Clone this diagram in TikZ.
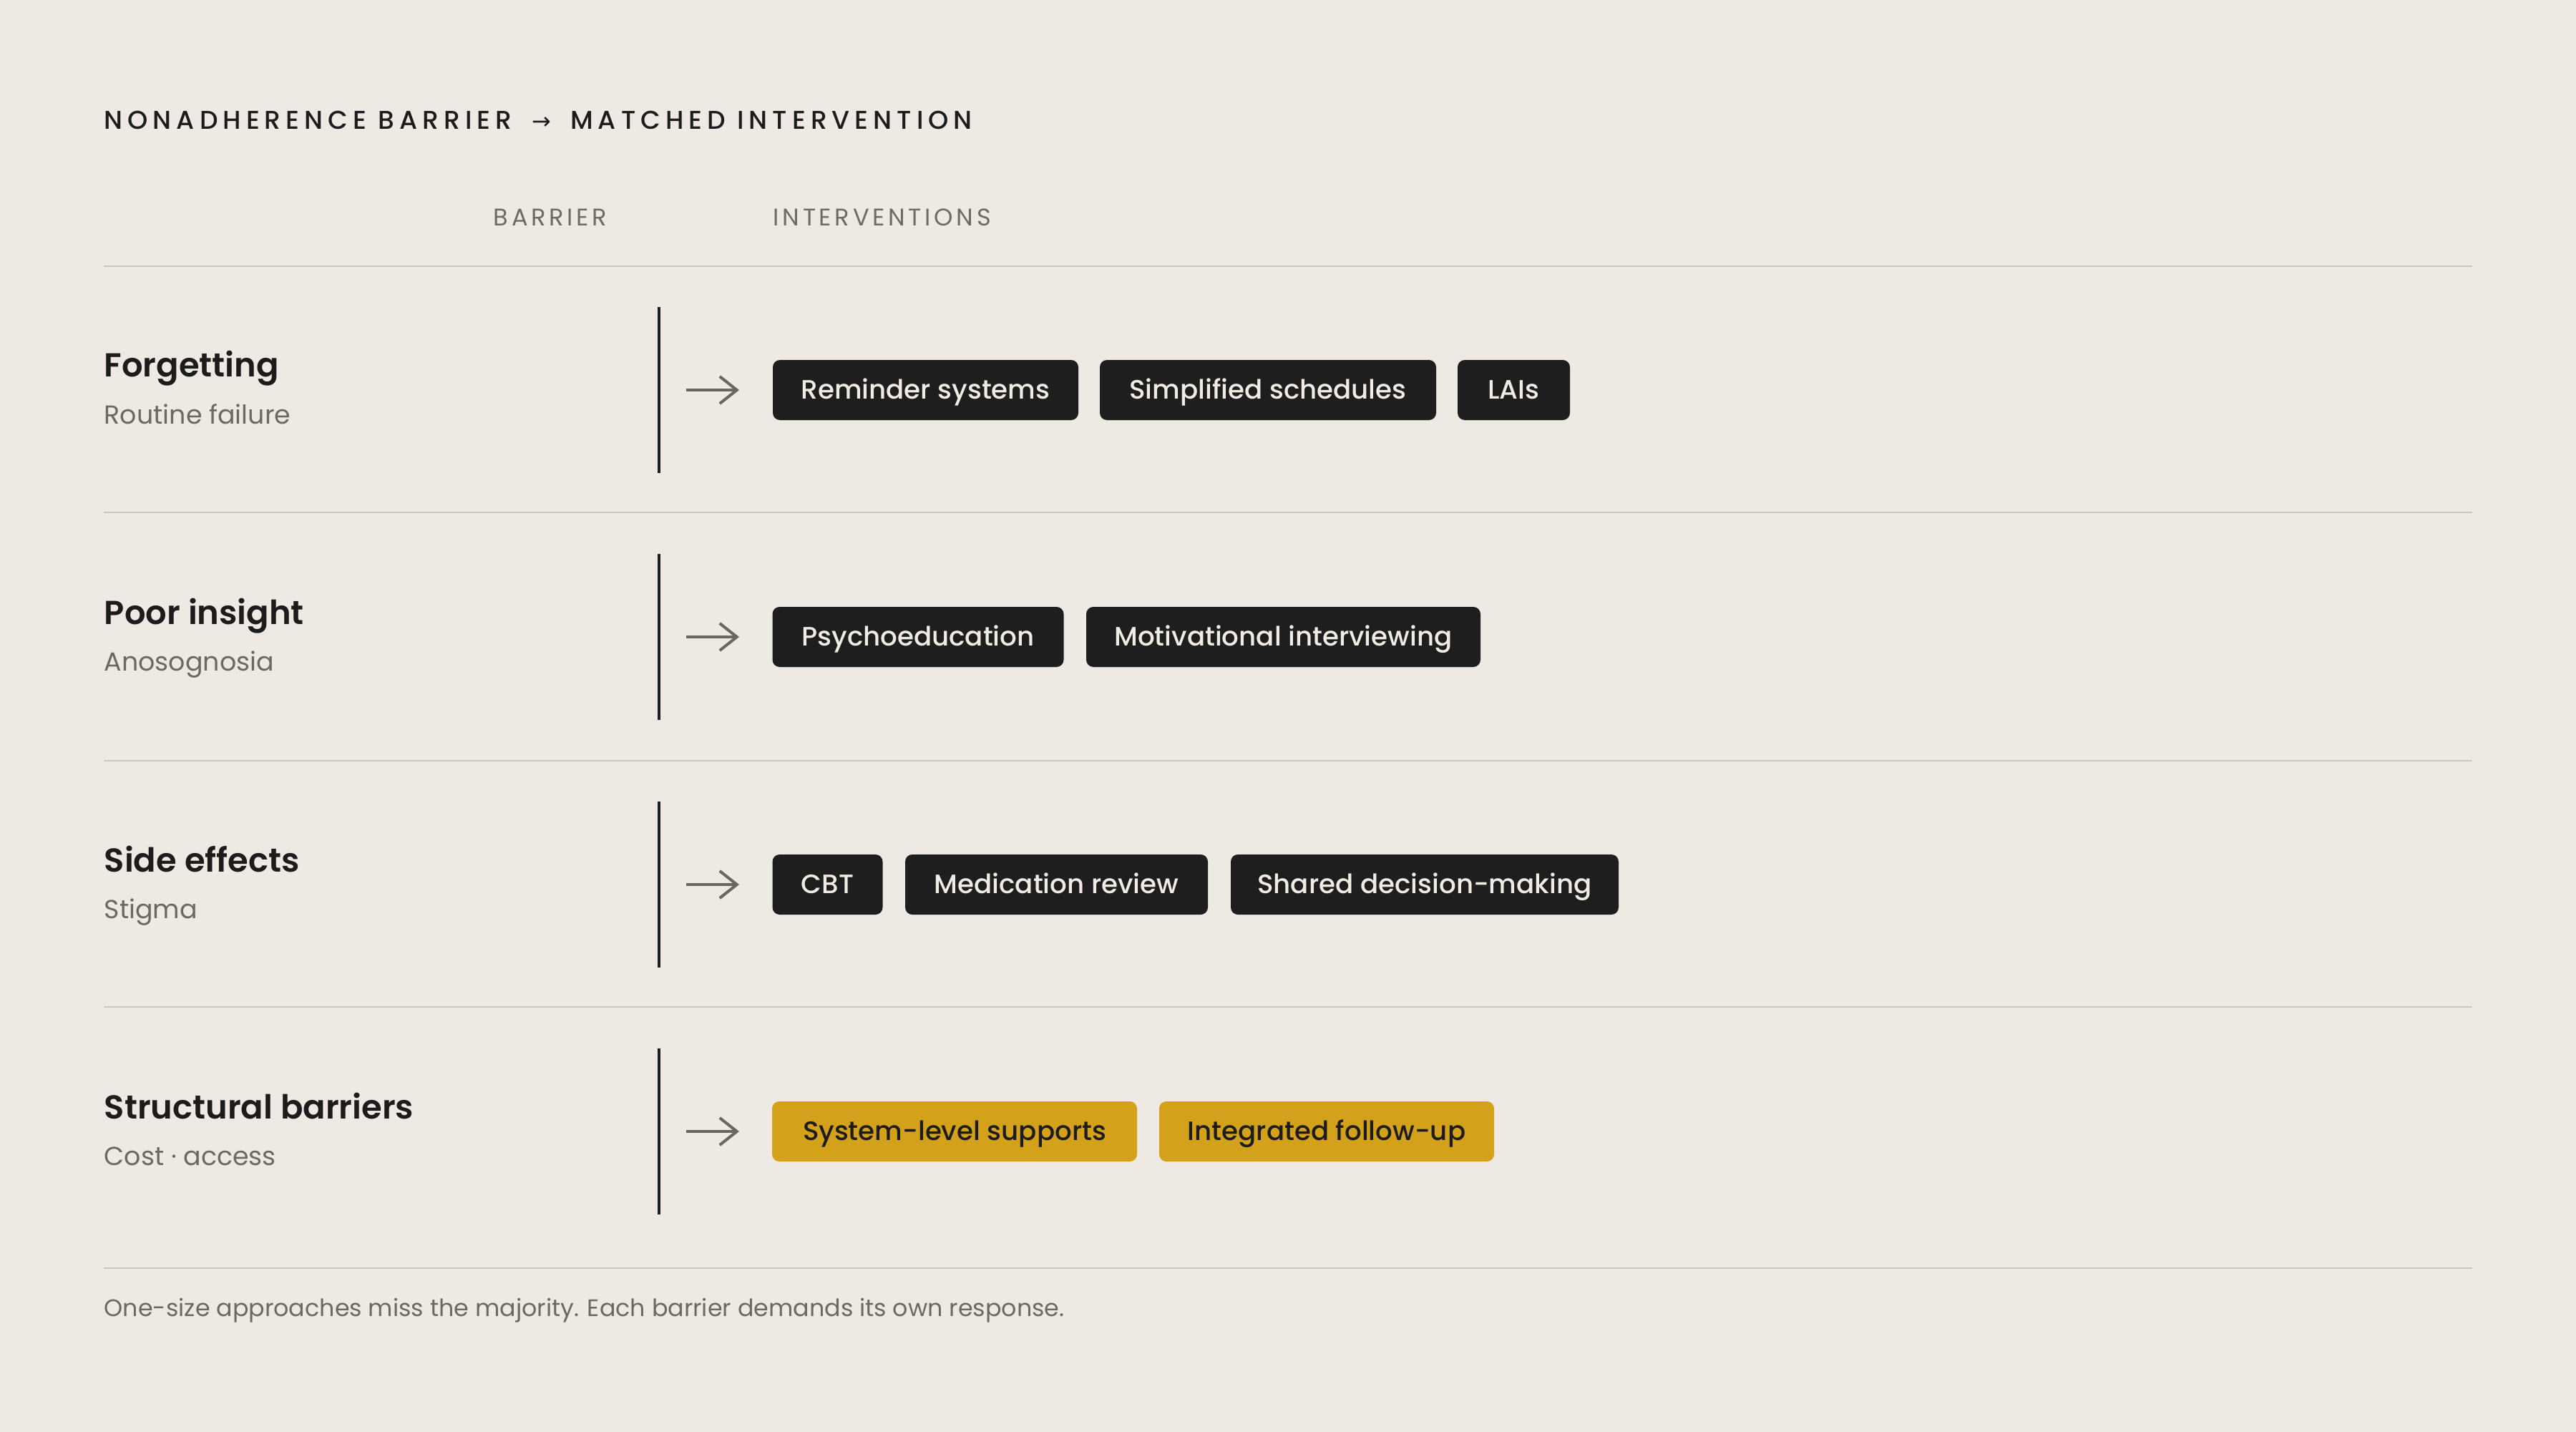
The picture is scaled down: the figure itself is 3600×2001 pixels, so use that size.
\documentclass[tikz,border=0pt]{standalone}
\usepackage{fontspec}
\setmainfont{Poppins}
\newfontfamily\pmed{Poppins Medium}
\newfontfamily\psemi{Poppins SemiBold}
\newfontfamily\ptitle[LetterSpace=19.5]{Poppins Medium}
\newfontfamily\phead[LetterSpace=14]{Poppins}
\newfontfamily\dejavu{DejaVu Sans}
\usetikzlibrary{arrows.meta}
\definecolor{bg}{HTML}{EEEAE3}
\definecolor{ink}{HTML}{1C1C1C}
\definecolor{chipdark}{HTML}{1E1E1E}
\definecolor{chiplight}{HTML}{F0ECE4}
\definecolor{gold}{HTML}{D4A11A}
\definecolor{subgray}{HTML}{6D6862}
\definecolor{headgray}{HTML}{6F6A65}
\definecolor{rulegray}{HTML}{CAC5BD}
\definecolor{arrowgray}{HTML}{6B6661}
\tikzset{
  chip/.style={rectangle, rounded corners=2.5pt, fill=chipdark, text=chiplight,
    minimum height=21pt, inner sep=0pt, text height=6.45pt, text depth=0pt,
    font=\pmed\fontsize{9.3}{11}\selectfont},
  goldchip/.style={chip, fill=gold, text=ink},
  rowtitle/.style={anchor=base west, inner sep=0pt, text=ink, font=\psemi\fontsize{11.6}{14}\selectfont},
  rowsub/.style={anchor=base west, inner sep=0pt, text=subgray, font=\fontsize{9.1}{12}\selectfont},
  colhead/.style={anchor=base west, inner sep=0pt, text=headgray, font=\phead\fontsize{8.4}{10}\selectfont},
  rulesty/.style={draw=rulegray, line width=0.65pt},
  barsty/.style={draw=chipdark, line width=1.1pt},
  arrowsty/.style={draw=arrowgray, line width=1pt, -{Straight Barb[length=6pt,width=9.5pt,line width=1pt]}}
}
\begin{document}
\begin{tikzpicture}[x=0.25pt,y=-0.25pt]
\fill[bg] (0,0) rectangle (3600,2001);
\useasboundingbox (0,0) rectangle (3600,2001);

% title
\node[anchor=base west, inner sep=0pt, text=ink, font=\ptitle\fontsize{9}{11}\selectfont] (title) at (145,181)
  {NONADHERENCE BARRIER\hspace{7pt}{\dejavu\fontsize{8}{9}\selectfont →}\hspace{6.8pt}MATCHED INTERVENTION};

% column headers
\node[colhead] (hbar) at (689,315) {BARRIER};
\node[colhead] (hint) at (1080,315) {INTERVENTIONS};

% rules
\foreach \yy/\nm in {372/r0,716/r1,1063/r2,1407/r3,1772/r4}{
  \coordinate (\nm a) at (145,\yy);
  \coordinate (\nm b) at (3455,\yy);
  \draw[rulesty] (\nm a) -- (\nm b);
}

% rows: bars, arrows, titles
\foreach \cy/\k/\ttl/\sub in {545/1/Forgetting/Routine failure, 890/2/Poor insight/Anosognosia, 1236/3/Side effects/Stigma, 1581/4/Structural barriers/Cost · access}{
  \node[rowtitle] (t\k) at (145,\cy-18) {\ttl};
  \node[rowsub] (s\k) at (145,\cy+47) {\sub};
  \coordinate (bt\k) at (921,\cy-116);
  \coordinate (bb\k) at (921,\cy+116);
  \draw[barsty] (bt\k) -- (bb\k);
  \coordinate (as\k) at (959,\cy);
  \coordinate (ae\k) at (1033,\cy);
  \draw[arrowsty] (as\k) -- (ae\k);
}

% row 1 chips
\node[chip, minimum width=427*0.25pt] (c11) at (1293.5,545) {Reminder systems};
\node[chip, minimum width=470*0.25pt] (c12) at (1772,545) {Simplified schedules};
\node[chip, minimum width=157*0.25pt] (c13) at (2115.5,545) {LAIs};
% row 2 chips
\node[chip, minimum width=407*0.25pt] (c21) at (1283,890) {Psychoeducation};
\node[chip, minimum width=551*0.25pt] (c22) at (1793.5,890) {Motivational interviewing};
% row 3 chips
\node[chip, minimum width=154*0.25pt] (c31) at (1156.5,1236) {CBT};
\node[chip, minimum width=423*0.25pt] (c32) at (1476.5,1236) {Medication review};
\node[chip, minimum width=542*0.25pt] (c33) at (1991,1236) {Shared decision-making};
% row 4 chips
\node[goldchip, minimum width=510*0.25pt] (c41) at (1334,1581) {System-level supports};
\node[goldchip, minimum width=468*0.25pt] (c42) at (1854,1581) {Integrated follow-up};

% footer
\node[anchor=base west, inner sep=0pt, text=subgray, font=\fontsize{8.33}{10}\selectfont] (foot) at (145,1839)
  {One-size approaches miss the majority. Each barrier demands its own response.};
\end{tikzpicture}
\end{document}
